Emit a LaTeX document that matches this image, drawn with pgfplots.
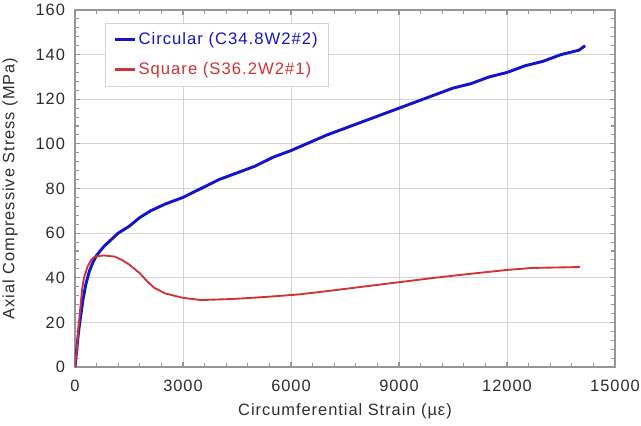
\documentclass[border=0pt]{standalone}
\usepackage{fontspec}
\setmainfont{Liberation Sans}[LetterSpace=6]
\usepackage{pgfplots}
\pgfplotsset{compat=1.18}
\definecolor{cblue}{RGB}{20,20,200}
\definecolor{cred}{RGB}{210,50,50}
\definecolor{axgray}{RGB}{150,150,150}
\definecolor{gridgray}{RGB}{212,212,212}
\definecolor{txt}{RGB}{45,45,45}
\begin{document}
\begin{tikzpicture}
\path[use as bounding box] (-56.25pt,-43.5pt) rectangle (424.5pt,275.25pt);
\begin{axis}[
  scale only axis, width=405pt, height=267.75pt,
  xmin=0, xmax=15000, ymin=0, ymax=160,
  xtick={0,3000,...,15000}, ytick={0,20,...,160},
  scaled x ticks=false, scaled y ticks=false,
  minor x tick num=4, minor y tick num=4,
  grid=major, major grid style={gridgray, line width=0.7pt},
  axis line style={axgray, line width=1.1pt},
  tick style={axgray, line width=0.8pt},
  major tick length=4pt, minor tick length=3pt,
  tick align=inside,
  tick label style={font=\fontsize{12.3}{14}\selectfont, text=txt},
  xticklabel style={yshift=-6pt},
  yticklabel style={xshift=-4pt},
  /pgf/number format/.cd, 1000 sep={}, assume math mode=true, /pgfplots/.cd,
  xlabel={Circumferential Strain (µε)},
  ylabel={Axial Compressive Stress (MPa)},
  label style={font=\fontsize{12.3}{14}\selectfont, text=txt},
  xlabel style={at={(axis description cs:0.5,-0.125)}, anchor=center},
  ylabel style={at={(axis description cs:-0.12,0.5)}, anchor=center},
  legend style={at={(axis description cs:0.056,0.964)}, anchor=north west,
    draw=gridgray, fill=white, font=\fontsize{12.5}{14}\selectfont,
    row sep=8pt, inner xsep=6pt, inner ysep=5pt},
  legend cell align=left,
  legend image code/.code={\draw[#1, line width=1.8pt] (0pt,0pt) -- (15pt,0pt);},
]
\addplot[cblue, line width=2.2pt, line join=round] coordinates {
(0,0) (50,8) (100,16) (150,22) (220,30) (300,37) (400,43) (500,47) (600,50)
(800,54) (1000,57) (1200,60) (1500,63) (1800,67) (2100,70) (2500,73) (3000,76)
(3500,80) (4000,84) (4500,87) (5000,90) (5500,94) (6000,97) (6500,100.5)
(7000,104) (7500,107) (8000,110) (8500,113) (9000,116) (9500,119) (10000,122)
(10500,125) (11000,127) (11500,130) (12000,132) (12500,135) (13000,137)
(13500,140) (14000,142) (14170,144)
};
\addlegendentry{\textcolor{cblue}{Circular (C34.8W2\#2)}}
\addplot[cred, line width=1.4pt, line join=round] coordinates {
(0,0) (50,8) (100,18) (150,27) (200,35) (250,40) (350,45) (450,48) (550,49.5)
(800,50) (1100,49.5) (1300,48) (1500,46) (1800,42) (2000,38.5) (2200,35.5)
(2500,33) (3000,31) (3500,30) (4400,30.5) (5300,31.4) (6200,32.5) (7000,34)
(8000,36) (9000,38) (10000,40) (11000,41.8) (12000,43.5) (12700,44.4) (14030,44.8)
};
\addlegendentry{\textcolor{cred}{Square (S36.2W2\#1)}}
\end{axis}
\end{tikzpicture}
\end{document}
